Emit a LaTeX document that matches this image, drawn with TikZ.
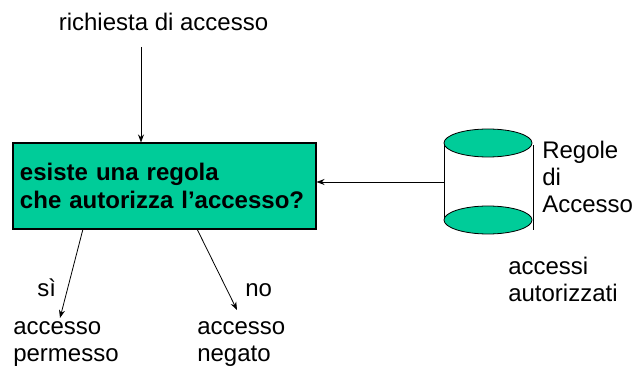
\documentclass[tikz,border=0pt]{standalone}
\usepackage{fontspec}
\setmainfont{Liberation Sans}
\usetikzlibrary{arrows.meta, calc}
\definecolor{rulegreen}{HTML}{00CC99}

\begin{document}
\begin{tikzpicture}[x=0.75pt, y=-0.75pt,
      rulebox/.style={draw=black, fill=rulegreen, line width=0.8pt,
                      minimum width=227.25pt, minimum height=64.5pt,
                      text width=216.75pt, inner xsep=5.25pt,
                      font=\fontsize{18}{21}\selectfont\bfseries, align=left},
      lab/.style={font=\fontsize{18}{20.6}\selectfont, inner sep=0pt, align=left},
      arrow/.style={-{Stealth[length=6pt, width=4.5pt]}, line width=0.6pt},
      db/.style={draw=black, fill=rulegreen, line width=0.6pt}
    ]
    \useasboundingbox (0,0) rectangle (633,370);
    \node[rulebox] (rule) at (164.5,186) {esiste una regola\\che autorizza l’accesso?};
    \node[lab, anchor=base] (req) at (163.5,31) {richiesta di accesso};
    \coordinate (reqEnd) at (141,47);
    \draw[arrow] (reqEnd) -- (reqEnd |- rule.north);
    % archivio delle regole
    \draw[line width=0.6pt] (444,143) -- (444,220);
    \draw[line width=0.6pt] (533,145) -- (533,230);
    \draw[db] (488,143) ellipse [x radius=44, y radius=14];
    \draw[db] (488,220) ellipse [x radius=44, y radius=14];
    \coordinate (cylW) at (444,182);
    \draw[arrow] (cylW) -- (cylW -| rule.east);
    \node[lab, anchor=base west] (rules) at (542,213) {Regole\\di\\Accesso};
    \node[lab, anchor=base west] (auth) at (508,302) {accessi\\autorizzati};
    % esiti
    \coordinate (siStart) at (83,229);
    \coordinate (noStart) at (197,229);
    \coordinate (siTip) at (60,318);
    \coordinate (noTip) at (237,310);
    \draw[arrow] (siStart) -- (siTip);
    \draw[arrow] (noStart) -- (noTip);
    \node[lab, anchor=base west] (si) at (37,297) {sì};
    \node[lab, anchor=base west] (no) at (245,297) {no};
    \node[lab, anchor=base west] (perm) at (13,362) {accesso\\permesso};
    \node[lab, anchor=base west] (neg) at (197,362) {accesso\\negato};
\end{tikzpicture}
\end{document}
